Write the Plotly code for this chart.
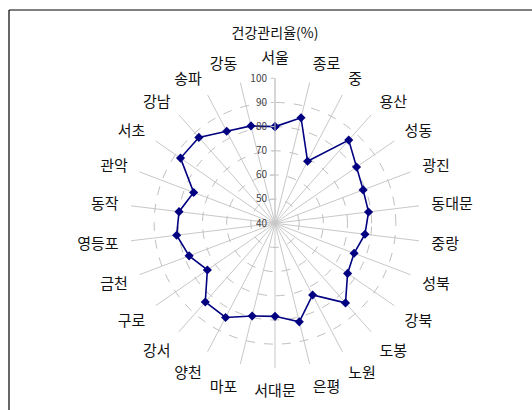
import plotly.graph_objects as go

# Seoul districts, clockwise from the top
districts = ["서울", "종로", "중", "용산", "성동", "광진", "동대문", "중랑", "성북", "강북",
             "도봉", "노원", "은평", "서대문", "마포", "양천", "강서", "구로", "금천", "영등포",
             "동작", "관악", "서초", "강남", "송파", "강동"]
rates = [80, 85, 69, 86, 81, 79, 79, 77.5, 75, 76.5,
         84, 73.5, 82, 78.5, 79.5, 84, 83.5, 74, 78, 81,
         80, 76, 87.5, 87.5, 83, 81.5]
radial_ticks = [40, 50, 60, 70, 80, 90, 100]

W, H = 532, 410
cx, cy, R = 275, 223.3, 145

fig = go.Figure()
fig.add_trace(go.Scatterpolar(
    r=rates + rates[:1],
    theta=districts + districts[:1],
    mode="lines+markers",
    line=dict(color="#000080", width=1.6),
    marker=dict(symbol="diamond", size=7, color="#000080"),
    showlegend=False,
    cliponaxis=False,
))

fig.update_layout(
    width=W, height=H,
    margin=dict(l=0, r=0, t=0, b=0),
    paper_bgcolor="white",
    plot_bgcolor="white",
    font=dict(family="Noto Sans CJK KR", size=15, color="#111111"),
    title=dict(text="건강관리율(%)", x=cx / W, xanchor="center",
               y=1 - 33 / H, yanchor="middle",
               font=dict(size=14, color="#111111")),
    polar=dict(
        domain=dict(x=[(cx - R) / W, (cx + R) / W],
                    y=[(H - cy - R) / H, (H - cy + R) / H]),
        bgcolor="white",
        angularaxis=dict(
            rotation=90, direction="clockwise",
            showline=False,
            ticks="outside", ticklen=9, tickcolor="rgba(0,0,0,0)",
            gridcolor="#c8c8c8", gridwidth=1,
            tickfont=dict(size=15, color="#111111"),
        ),
        radialaxis=dict(
            range=[40, 100], angle=90, tickangle=90,
            tickvals=radial_ticks, ticktext=[str(v) for v in radial_ticks],
            side="counterclockwise",
            showline=True, linecolor="#c8c8c8", linewidth=1,
            ticks="outside", ticklen=4, tickcolor="#c8c8c8",
            gridcolor="#c0c0c0", griddash="dash", gridwidth=1,
            tickfont=dict(size=10, color="#444444"),
        ),
    ),
    shapes=[
        dict(type="line", xref="paper", yref="paper",
             x0=9 / W, x1=9 / W, y0=-0.05, y1=1 - 10 / H,
             line=dict(color="black", width=1.2)),
        dict(type="line", xref="paper", yref="paper",
             x0=9 / W, x1=1.05, y0=1 - 10 / H, y1=1 - 10 / H,
             line=dict(color="black", width=1.2)),
    ],
)

fig.write_html("out.html")
